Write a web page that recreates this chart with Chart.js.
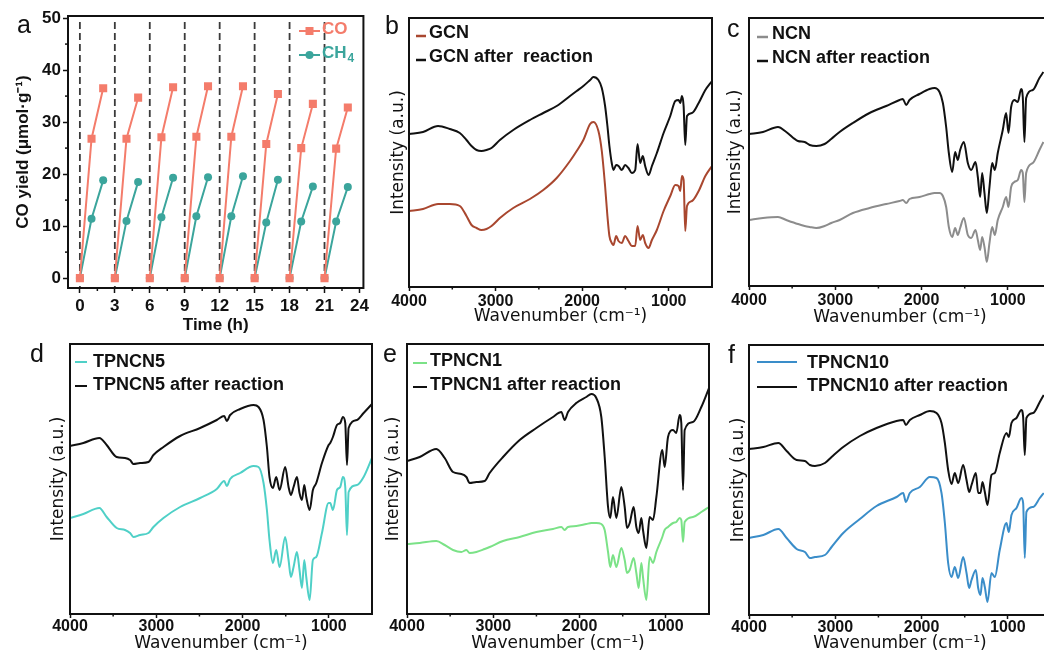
<!DOCTYPE html>
<html>
<head>
<meta charset="utf-8">
<title>Photocatalytic CO2 reduction and FTIR spectra</title>
<script src="https://cdn.jsdelivr.net/npm/chart.js@4.4.1/dist/chart.umd.min.js"></script>
<style>
  html, body { margin: 0; padding: 0; background: #fff; }
  body { position: relative; width: 1044px; height: 659px; overflow: hidden; }
  canvas { position: absolute; }
</style>
</head>
<body>
<canvas id="panelA" width="372" height="345" style="left:0;top:0"></canvas>
<canvas id="panelB" width="345" height="335" style="left:370px;top:0"></canvas>
<canvas id="panelC" width="345" height="335" style="left:710px;top:0"></canvas>
<canvas id="panelD" width="375" height="329" style="left:0;top:330px"></canvas>
<canvas id="panelE" width="345" height="329" style="left:370px;top:330px"></canvas>
<canvas id="panelF" width="345" height="329" style="left:710px;top:330px"></canvas>
<script>
// ---------- (a) CO / CH4 yield over 8 consecutive 3 h runs ----------
const runStart = [0, 3, 6, 9, 12, 15, 18, 21];
const runHours = [0, 1, 2];
const coYield = [[0, 26.8, 36.5], [0, 26.8, 34.7], [0, 27.1, 36.7], [0, 27.2, 36.9],
                 [0, 27.2, 36.9], [0, 25.8, 35.4], [0, 25.0, 33.5], [0, 24.9, 32.8]];
const ch4Yield = [[0, 11.4, 18.8], [0, 11.0, 18.5], [0, 11.7, 19.3], [0, 11.9, 19.4],
                  [0, 11.9, 19.6], [0, 10.7, 18.9], [0, 10.9, 17.6], [0, 10.9, 17.5]];
const timeTicks = [0, 3, 6, 9, 12, 15, 18, 21, 24];
const timeMinorTicks = [1.5, 4.5, 7.5, 10.5, 13.5, 16.5, 19.5, 22.5];
const yieldTicks = [0, 10, 20, 30, 40, 50];
const yieldMinorTicks = [5, 15, 25, 35, 45];

// ---------- (b-f) FTIR spectra, intensity in arbitrary units ----------
const wnTicks = [4000, 3000, 2000, 1000];
const wnMinorTicks = [3500, 2500, 1500];

// b: GCN
const gcnWn = [4000,3838,3664,3529,3413,3336,3278,3220,3163,3105,3047,2950,2796,2603,2449,2294,2140,2063,1986,1908,
  1870,1812,1773,1735,1708,1685,1658,1638,1607,1580,1542,1503,1465,1426,1387,1360,1330,1299,1272,1233,
  1194,1137,1059,982,924,886,867,847,828,809,789,731,654,577,500];
const gcnFresh = [76,78,83,83,81,71,62,59,57,58,61,69,79,88,97,109,126,136,147,163,
  165,156,136,101,71,51,44,42,51,46,44,51,46,41,41,61,47,52,44,39,
  47,57,76,91,102,101,96,111,107,56,81,86,96,111,121];
const gcnAfter = [153,155,161,158,154,147,141,137,136,137,139,147,157,167,174,181,191,196,201,207,
  210,207,199,181,161,141,124,117,122,121,117,122,119,114,117,143,124,131,121,112,
  121,134,154,171,186,187,184,191,181,142,171,174,184,197,206];

// c: NCN
const ncnWn = [4000,3838,3664,3568,3433,3355,3297,3220,3124,3047,2950,2796,2603,2410,2255,2217,2178,2140,2024,1908,
  1850,1792,1753,1715,1684,1645,1611,1580,1553,1510,1464,1425,1375,1348,1321,1298,1271,1244,1213,1182,
  1151,1117,1059,1020,993,962,924,885,846,827,808,788,711,634,588];
const ncnFresh = [66,68,69,66,62,60,59,58,60,63,66,73,78,82,85,86,83,87,89,92,
  93,93,90,79,59,49,58,51,58,68,51,48,56,46,36,49,39,24,43,59,
  51,66,79,89,79,99,104,106,116,113,84,113,123,136,144];
const ncnAfter = [152,154,159,154,145,144,141,140,142,147,154,163,173,180,186,187,181,186,192,197,
  198,194,183,159,133,114,134,126,136,144,123,116,124,109,89,113,93,73,99,123,
  116,133,156,173,153,179,186,184,197,189,144,188,196,208,214];

// d: TPNCN5
const tp5Wn = [4000,3845,3660,3575,3459,3362,3304,3265,3188,3091,3033,2917,2724,2492,2299,2213,2183,2144,2028,1873,
  1815,1757,1718,1688,1649,1610,1571,1506,1467,1440,1409,1370,1340,1312,1285,1262,1223,1185,1146,1080,
  1003,984,953,906,868,837,810,790,771,674,597,500];
const tp5Fresh = [96,100,106,97,86,84,81,77,79,81,87,96,107,116,125,133,128,135,141,148,
  147,131,104,74,51,64,47,77,54,37,47,62,44,26,54,37,14,54,57,81,
  111,111,104,124,127,137,127,79,122,129,137,156];
const tp5After = [168,171,176,169,157,156,154,150,151,152,159,167,178,186,194,198,193,199,205,209,
  207,194,167,137,126,137,124,147,127,119,127,137,121,114,129,117,104,124,131,151,
  169,171,177,189,191,197,191,149,186,194,201,210];

// e: TPNCN1
const tp1Wn = [4000,3853,3660,3563,3467,3370,3312,3274,3196,3100,3042,2887,2694,2501,2308,2211,2173,2134,2038,1922,
  1864,1806,1748,1709,1670,1644,1613,1574,1516,1477,1450,1419,1373,1342,1315,1284,1265,1226,1188,1149,
  1110,1041,1014,975,917,879,840,821,801,782,686,589,500];
const tp1Fresh = [70,71,73,69,64,62,64,61,62,65,67,73,77,82,85,87,84,87,88,90,
  91,91,90,84,62,47,59,47,66,54,41,44,56,41,26,51,37,14,57,51,
  62,77,84,87,91,92,96,94,72,92,97,102,107];
const tp1After = [153,157,165,156,142,140,137,131,132,133,141,157,174,186,197,202,194,202,211,217,
  220,216,197,157,107,96,117,96,127,107,86,91,107,87,81,96,84,66,97,94,
  117,164,147,177,184,181,199,191,124,184,192,207,226];

// f: TPNCN10
const tp10Wn = [4000,3834,3660,3564,3448,3352,3294,3236,3120,3043,2908,2715,2522,2290,2213,2182,2136,2020,1904,1827,
  1769,1730,1692,1653,1615,1576,1518,1479,1449,1421,1371,1344,1317,1294,1267,1236,1190,1151,1094,1016,
  989,958,900,843,823,804,785,707,630,584];
const tp10Fresh = [77,80,86,77,66,63,57,58,60,68,82,96,109,118,122,113,122,128,138,137,
  122,92,52,38,48,37,58,42,27,35,45,27,20,37,28,13,42,38,65,92,
  83,100,107,117,112,57,103,108,117,122];
const tp10After = [166,168,172,164,155,154,150,149,152,158,168,179,187,194,195,190,195,200,204,202,
  192,172,145,131,142,132,150,135,123,130,142,122,122,133,123,110,140,142,162,182,
  178,192,197,205,198,160,197,202,213,220];

const FONT = '"Liberation Sans", Arial, Helvetica, sans-serif';
const FONT_TITLE = '"DejaVu Sans", sans-serif';
const INK = '#111111';
const CO_COLOR = '#F47C6B';
const CH4_COLOR = '#3BA59C';

// frame, minor ticks, dashed run separators, panel letter and the in-plot legend
const decor = {
  id: 'decor',
  beforeDatasetsDraw(chart, args, opts) {
    if (!opts.dashedX) return;
    const {ctx, chartArea: ca, scales: {x}} = chart;
    ctx.save();
    ctx.strokeStyle = '#3a3a3a';
    ctx.lineWidth = 1.8;
    ctx.setLineDash([7, 4]);
    opts.dashedX.forEach(v => {
      const px = x.getPixelForValue(v);
      ctx.beginPath();
      ctx.moveTo(px, ca.top + 6);
      ctx.lineTo(px, ca.bottom);
      ctx.stroke();
    });
    ctx.restore();
  },
  afterDraw(chart, args, opts) {
    const {ctx, chartArea: ca, scales: {x, y}} = chart;
    ctx.save();
    ctx.strokeStyle = INK;
    ctx.lineWidth = 2;
    ctx.strokeRect(ca.left, ca.top, ca.right - ca.left, ca.bottom - ca.top);

    ctx.lineWidth = 1.5;
    (opts.minorX || []).forEach(v => {
      const px = x.getPixelForValue(v);
      ctx.beginPath(); ctx.moveTo(px, ca.bottom); ctx.lineTo(px, ca.bottom + opts.minorLen); ctx.stroke();
    });
    (opts.minorY || []).forEach(v => {
      const py = y.getPixelForValue(v);
      ctx.beginPath(); ctx.moveTo(ca.left, py); ctx.lineTo(ca.left - opts.minorLen, py); ctx.stroke();
    });

    ctx.fillStyle = INK;
    ctx.textBaseline = 'alphabetic';
    ctx.font = '25px ' + FONT;
    ctx.fillText(opts.letter.text, opts.letter.x, opts.letter.y);

    (opts.legend || []).forEach(it => {
      const ds = chart.data.datasets[it.index];
      const col = ds.borderColor;
      ctx.strokeStyle = col;
      ctx.fillStyle = col;
      ctx.lineWidth = it.lw || 2.5;
      ctx.beginPath(); ctx.moveTo(it.x0, it.y); ctx.lineTo(it.x1, it.y); ctx.stroke();
      const cx = (it.x0 + it.x1) / 2;
      if (it.marker === 'rect') {
        ctx.fillRect(cx - 4, it.y - 4, 8, 8);
      } else if (it.marker === 'circle') {
        ctx.beginPath(); ctx.arc(cx, it.y, 4, 0, Math.PI * 2); ctx.fill();
      }
      ctx.fillStyle = opts.coloredText ? col : INK;
      ctx.font = 'bold ' + opts.fontSize + 'px ' + FONT;
      const text = it.text || ds.label;
      ctx.fillText(text, it.tx, it.ty);
      if (it.sub) {
        const w = ctx.measureText(text).width;
        ctx.font = 'bold ' + Math.round(opts.fontSize * 0.68) + 'px ' + FONT;
        ctx.fillText(it.sub, it.tx + w + 1, it.ty + 4);
      }
    });
    ctx.restore();
  }
};

function xAxis(o) {
  return {
    type: 'linear', min: o.min, max: o.max, reverse: !!o.reverse,
    afterBuildTicks: s => { s.ticks = o.ticks.map(v => ({value: v})); },
    afterFit: s => { s.height = o.size; },
    grid: {drawOnChartArea: false, drawTicks: true, tickLength: o.tickLen, tickWidth: 1.5, tickColor: INK},
    border: {display: false},
    ticks: {color: INK, font: {family: FONT, size: o.fontSize, weight: 'bold'}, padding: o.tickPad,
            maxRotation: 0, autoSkip: false, callback: v => String(v)},
    title: {display: true, text: o.title, color: INK, font: o.titleFont, padding: {top: 0, bottom: o.titlePad}}
  };
}

function runSeries(values) {
  const pts = [];
  runStart.forEach((t0, i) => {
    runHours.forEach((h, k) => pts.push({x: t0 + h, y: values[i][k]}));
    pts.push({x: t0 + 2.5, y: null});   // no line between runs
  });
  return pts;
}

function spectrum(wn, values) {
  return wn.map((w, i) => ({x: w, y: values[i]}));
}

new Chart(document.getElementById('panelA'), {
  type: 'line',
  data: {
    datasets: [
      {label: 'CO', data: runSeries(coYield), borderColor: CO_COLOR, backgroundColor: CO_COLOR,
       pointBackgroundColor: CO_COLOR, borderWidth: 2, pointStyle: 'rect', pointRadius: 5.7, pointBorderWidth: 0},
      {label: 'CH₄', data: runSeries(ch4Yield), borderColor: CH4_COLOR, backgroundColor: CH4_COLOR,
       pointBackgroundColor: CH4_COLOR, borderWidth: 2, pointStyle: 'circle', pointRadius: 4, pointBorderWidth: 0}
    ]
  },
  options: {
    responsive: false, animation: false, spanGaps: false,
    layout: {autoPadding: false, padding: {top: 16, right: 6, left: 0, bottom: 0}},
    scales: {
      x: xAxis({min: -1.02, max: 24.34, ticks: timeTicks, size: 57, tickLen: 5, fontSize: 17, tickPad: 3,
                title: 'Time (h)', titleFont: {family: FONT, size: 17, weight: 'bold'}, titlePad: 9}),
      y: {
        type: 'linear', min: -1.9, max: 50.4,
        afterBuildTicks: s => { s.ticks = yieldTicks.map(v => ({value: v})); },
        afterFit: s => { s.width = 68; },
        grid: {drawOnChartArea: false, drawTicks: true, tickLength: 5, tickWidth: 1.5, tickColor: INK},
        border: {display: false},
        ticks: {color: INK, font: {family: FONT, size: 17, weight: 'bold'}, padding: 2, callback: v => String(v)},
        title: {display: true, text: 'CO yield (μmol·g⁻¹)', color: INK,
                font: {family: FONT, size: 17, weight: 'bold'}, padding: {top: 13, bottom: 0}}
      }
    },
    plugins: {
      legend: {display: false}, tooltip: {enabled: false},
      decor: {
        minorX: timeMinorTicks, minorY: yieldMinorTicks, minorLen: 3, dashedX: runStart,
        letter: {text: 'a', x: 17, y: 33}, fontSize: 17, coloredText: true,
        legend: [
          {index: 0, x0: 299, x1: 320, y: 31, lw: 2, marker: 'rect', tx: 322, ty: 34},
          {index: 1, x0: 299, x1: 320, y: 55, lw: 2, marker: 'circle', tx: 322, ty: 58, text: 'CH', sub: '4'}
        ]
      }
    }
  },
  plugins: [decor]
});

function ftirPanel(id, wn, fresh, after, cfg) {
  return new Chart(document.getElementById(id), {
    type: 'line',
    data: {
      datasets: [
        {label: cfg.name, data: spectrum(wn, fresh), borderColor: cfg.color},
        {label: cfg.afterLabel, data: spectrum(wn, after), borderColor: INK}
      ]
    },
    options: {
      responsive: false, animation: false,
      elements: {line: {borderWidth: 2, cubicInterpolationMode: 'monotone'}, point: {radius: 0}},
      layout: {autoPadding: false, padding: {top: cfg.top, right: cfg.right, left: 0, bottom: 0}},
      scales: {
        x: xAxis({min: 500, max: 4000, reverse: true, ticks: wnTicks, size: cfg.xSize, tickLen: 4,
                  fontSize: 16, tickPad: cfg.tickPad, title: 'Wavenumber (cm⁻¹)',
                  titleFont: {family: FONT_TITLE, size: 17}, titlePad: cfg.xTitlePad}),
        y: {
          type: 'linear', min: 0, max: cfg.yMax,
          afterFit: s => { s.width = cfg.ySize; },
          grid: {display: false}, border: {display: false}, ticks: {display: false},
          title: {display: true, text: 'Intensity (a.u.)', color: INK,
                  font: {family: FONT_TITLE, size: 17}, padding: {top: cfg.yTitlePad, bottom: 0}}
        }
      },
      plugins: {
        legend: {display: false}, tooltip: {enabled: false},
        decor: {minorX: wnMinorTicks, minorLen: 2.5, letter: cfg.letter, fontSize: 18, coloredText: false,
                legend: cfg.legend}
      }
    },
    plugins: [decor]
  });
}

ftirPanel('panelB', gcnWn, gcnFresh, gcnAfter, {
  name: 'GCN', afterLabel: 'GCN after  reaction', color: '#A9472F',
  top: 18, right: 3, ySize: 39, xSize: 48, yMax: 269, yTitlePad: 18, xTitlePad: 8, tickPad: 1,
  letter: {text: 'b', x: 15, y: 34},
  legend: [{index: 0, x0: 46, x1: 56, y: 36, tx: 59, ty: 38}, {index: 1, x0: 46, x1: 56, y: 60, tx: 59, ty: 62}]
});
ftirPanel('panelC', ncnWn, ncnFresh, ncnAfter, {
  name: 'NCN', afterLabel: 'NCN after reaction', color: '#8C8C8C',
  top: 18, right: 4, ySize: 39, xSize: 49, yMax: 268, yTitlePad: 15, xTitlePad: 7, tickPad: 1,
  letter: {text: 'c', x: 17, y: 37},
  legend: [{index: 0, x0: 47, x1: 58, y: 37, tx: 62, ty: 39}, {index: 1, x0: 47, x1: 58, y: 61, tx: 62, ty: 63}]
});
ftirPanel('panelD', tp5Wn, tp5Fresh, tp5After, {
  name: 'TPNCN5', afterLabel: 'TPNCN5 after reaction', color: '#4FD0C7',
  top: 14, right: 3, ySize: 70, xSize: 45, yMax: 270, yTitlePad: 48, xTitlePad: 5, tickPad: -1,
  letter: {text: 'd', x: 30, y: 32},
  legend: [{index: 0, x0: 75, x1: 87, y: 32, lw: 2, tx: 93, ty: 37}, {index: 1, x0: 75, x1: 87, y: 56, lw: 2, tx: 93, ty: 60}]
});
ftirPanel('panelE', tp1Wn, tp1Fresh, tp1After, {
  name: 'TPNCN1', afterLabel: 'TPNCN1 after reaction', color: '#7BE287',
  top: 14, right: 6, ySize: 37, xSize: 45, yMax: 270, yTitlePad: 13, xTitlePad: 5, tickPad: -1,
  letter: {text: 'e', x: 13, y: 32},
  legend: [{index: 0, x0: 43, x1: 57, y: 33, lw: 2, tx: 60, ty: 36}, {index: 1, x0: 43, x1: 57, y: 57, lw: 2, tx: 60, ty: 60}]
});
ftirPanel('panelF', tp10Wn, tp10Fresh, tp10After, {
  name: 'TPNCN10', afterLabel: 'TPNCN10 after reaction', color: '#3A8DC9',
  top: 15, right: 4, ySize: 39, xSize: 44, yMax: 270, yTitlePad: 18, xTitlePad: 5, tickPad: -1,
  letter: {text: 'f', x: 18, y: 33},
  legend: [{index: 0, x0: 47, x1: 87, y: 32, lw: 2, tx: 97, ty: 38}, {index: 1, x0: 47, x1: 87, y: 57, lw: 2, tx: 97, ty: 61}]
});
</script>
</body>
</html>
